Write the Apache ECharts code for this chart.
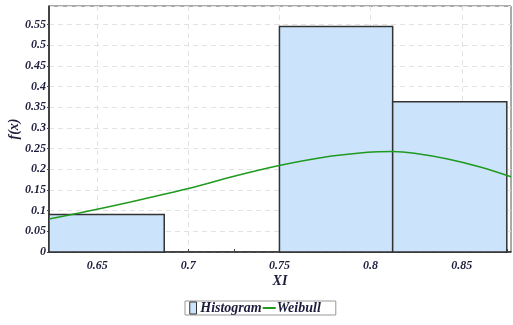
<!DOCTYPE html>
<html>
<head>
<meta charset="utf-8">
<script src="https://cdn.jsdelivr.net/npm/echarts@6/dist/echarts.min.js"></script>
<style>html,body{margin:0;padding:0;background:#fff}#c{width:513px;height:325px}</style>
</head>
<body>
<div id="c"></div>
<script>
// Histogram bins: [left edge, right edge, relative frequency]
const binLeft = [0.6236, 0.6868, 0.75, 0.8121];
const binRight = [0.6868, 0.75, 0.8121, 0.8747];
const binHeight = [0.0909, 0, 0.5455, 0.3636];
// Weibull fitted curve points
const curveX = [0.6236, 0.6408, 0.6683, 0.6995, 0.7251, 0.7498, 0.7727, 0.7984, 0.8121, 0.8240, 0.8423, 0.8606, 0.8770];
const curveY = [0.080, 0.095, 0.121, 0.153, 0.183, 0.209, 0.228, 0.241, 0.243, 0.239, 0.225, 0.205, 0.182];
// Tick labels
const xLabels = [0.65, 0.7, 0.75, 0.8, 0.85];
const xTicks = [0.625, 0.65, 0.675, 0.7, 0.725, 0.75, 0.775, 0.8, 0.825, 0.85, 0.875];
const xMin = 0.6236, xMax = 0.877, yMax = 0.595;

const histData = binLeft.map((l, i) => [l, binRight[i], binHeight[i]]).filter(d => d[2] > 0);
const curveData = curveX.map((x, i) => [x, curveY[i]]);

const font = {fontFamily: 'Liberation Serif', fontStyle: 'italic', fontWeight: 'bold', color: '#1c1c3c'};
const chart = echarts.init(document.getElementById('c'));
chart.setOption({
  animation: false,
  grid: {left: 49, right: 2, top: 6, bottom: 73, show: true, borderColor: '#555', borderWidth: 1,
    containLabel: false, outerBoundsMode: 'none'},
  xAxis: [{
    type: 'value', min: xMin, max: xMax,
    name: 'XI', nameLocation: 'middle', nameGap: 22, nameMoveOverlap: false,
    nameTextStyle: Object.assign({fontSize: 14}, font),
    axisLine: {show: true, onZero: false, lineStyle: {color: '#222', width: 1.5}},
    axisTick: {show: true, inside: true, length: 3, customValues: xTicks, lineStyle: {color: '#444'}},
    axisLabel: Object.assign({fontSize: 12, margin: 8, customValues: xLabels,
      formatter: v => String(Math.round(v * 1000) / 1000)}, font),
    splitLine: {show: false}
  }, {
    type: 'value', min: xMin, max: xMax, position: 'bottom',
    axisLine: {show: false}, axisLabel: {show: false},
    axisTick: {show: false, customValues: xLabels},
    splitLine: {show: true, lineStyle: {type: [5, 4], color: '#e2e2e2'}}
  }],
  yAxis: {
    type: 'value', min: 0, max: yMax, interval: 0.05,
    name: 'f(x)', nameLocation: 'middle', nameGap: 28, nameMoveOverlap: false,
    nameTextStyle: Object.assign({fontSize: 14}, font),
    axisLine: {show: true, lineStyle: {color: '#222', width: 1.5}},
    axisTick: {show: true, inside: false, length: 2, lineStyle: {color: '#444'}},
    axisLabel: Object.assign({fontSize: 12, showMaxLabel: false, margin: 3,
      formatter: v => String(Math.round(v * 100) / 100)}, font),
    splitLine: {show: true, lineStyle: {type: [5, 4], color: '#e2e2e2'}}
  },
  legend: {
    top: 301, left: 185, orient: 'horizontal',
    itemGap: 0, itemWidth: 13, itemHeight: 12,
    borderColor: '#999', borderWidth: 1, padding: [0, 15, 0, 2], borderRadius: 0,
    textStyle: Object.assign({fontSize: 14, padding: [0, 0, 0, -4]}, font),
    data: [
      {name: 'Histogram', icon: 'path://M0,0L0,0M3,0L12,0L12,16L3,16ZM14,16L14,16',
        itemStyle: {color: '#cce4fb', borderColor: '#333', borderWidth: 1}},
      {name: 'Weibull', itemStyle: {color: 'rgba(0,0,0,0)', borderWidth: 0, opacity: 0}}
    ]
  },
  series: [
    {
      name: 'Histogram', type: 'custom', data: histData,
      encode: {x: [0, 1], y: 2},
      itemStyle: {color: '#cce4fb'},
      renderItem: function (params, api) {
        const p0 = api.coord([api.value(0), api.value(2)]);
        const p1 = api.coord([api.value(1), 0]);
        return {
          type: 'rect',
          shape: {x: p0[0], y: p0[1], width: p1[0] - p0[0], height: p1[1] - p0[1]},
          style: {fill: '#cce4fb', stroke: '#333', lineWidth: 1.5}
        };
      },
      z: 2
    },
    {
      name: 'Weibull', type: 'line', data: curveData, smooth: 0.3,
      symbol: 'none', showSymbol: false,
      lineStyle: {color: '#1f9a1f', width: 1.5}, itemStyle: {color: '#1f9a1f'},
      z: 3
    }
  ]
});
</script>
</body>
</html>
